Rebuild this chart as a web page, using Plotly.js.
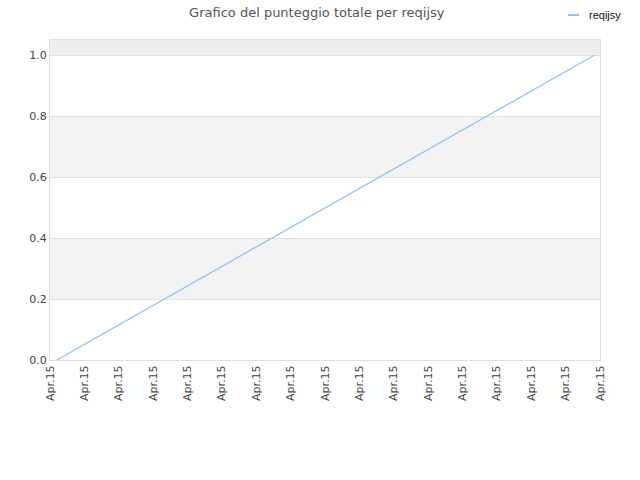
<!DOCTYPE html>
<html>
<head>
<meta charset="utf-8">
<script src="https://cdn.plot.ly/plotly-3.0.1.min.js"></script>
<style>
  html, body { margin: 0; padding: 0; background: #fff; }
  #chart { width: 640px; height: 480px; }
</style>
</head>
<body>
<div id="chart"></div>
<script>
// Score series for the one player
var seriesName = 'reqijsy';
var lineColor = '#8fc3f5';
var times = ['2015-04-15 00:12', '2015-04-15 15:50'];
var scores = [0, 1];

// axis ticks: hourly, all labelled by date only
var tickTimes = [];
for (var h = 0; h <= 16; h++) {
  tickTimes.push('2015-04-15 ' + (h < 10 ? '0' + h : h) + ':00');
}

// alternating background bands
var bandRanges = [[0.2, 0.4], [0.6, 0.8], [1.0, 1.2]];

var trace = {
  x: times,
  y: scores,
  name: seriesName,
  type: 'scatter',
  mode: 'lines',
  line: { color: lineColor, width: 1.3 },
  showlegend: false,
};

var shapes = bandRanges.map(function (r) {
  return {
    type: 'rect',
    xref: 'paper',
    yref: 'y',
    x0: 0,
    x1: 1,
    y0: r[0],
    y1: r[1],
    fillcolor: r[0] >= 1 ? '#eeeeee' : '#f3f3f3',
    line: { width: 0 },
    layer: 'below',
  };
});

// small legend in the top right corner (plotly's own legend pushes the margins)
shapes.push({
  type: 'line',
  xref: 'paper',
  yref: 'paper',
  x0: 0.942,
  x1: 0.962,
  y0: 1.078,
  y1: 1.078,
  line: { color: lineColor, width: 2 },
});

var layout = {
  width: 640,
  height: 480,
  margin: { l: 50, r: 40, t: 40, b: 120 },
  paper_bgcolor: '#fff',
  plot_bgcolor: '#fff',
  font: { family: 'DejaVu Sans, sans-serif', size: 11, color: '#444' },
  title: {
    text: 'Grafico del punteggio totale per reqijsy',
    font: { size: 13, color: '#555' },
    x: 0.495,
    xanchor: 'center',
    y: 0.975,
    yanchor: 'middle',
  },
  showlegend: false,
  annotations: [
    {
      text: seriesName,
      xref: 'paper',
      yref: 'paper',
      x: 0.977,
      y: 1.078,
      xanchor: 'left',
      yanchor: 'middle',
      showarrow: false,
      font: { family: 'Liberation Sans Narrow, Liberation Sans, sans-serif', size: 11, color: '#111' },
    },
  ],
  xaxis: {
    type: 'date',
    range: [tickTimes[0], tickTimes[tickTimes.length - 1]],
    tickvals: tickTimes,
    tickformat: '%b.%d',
    tickangle: -90,
    showgrid: false,
    zeroline: false,
    showline: true,
    linecolor: '#dddddd',
    mirror: true,
    ticks: '',
    tickfont: { size: 11, color: '#444' },
  },
  yaxis: {
    range: [0, 1.05],
    tickvals: [0, 0.2, 0.4, 0.6, 0.8, 1.0],
    tickformat: '.1f',
    showgrid: true,
    gridcolor: '#e0e0e0',
    zeroline: false,
    showline: true,
    linecolor: '#dddddd',
    mirror: true,
    ticks: '',
    tickfont: { size: 11, color: '#444' },
  },
  shapes: shapes,
};

Plotly.newPlot('chart', [trace], layout, { displayModeBar: false });
</script>
</body>
</html>
